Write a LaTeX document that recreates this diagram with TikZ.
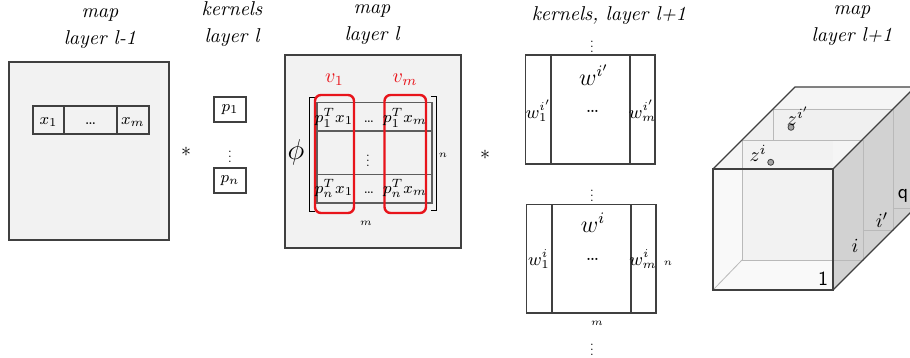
\documentclass[tikz,border=0pt]{standalone}
\usepackage{amsmath, amssymb}
\usepackage{graphicx}
\usepackage{tikz}
\usetikzlibrary{positioning, calc}

\definecolor{linegray}{HTML}{404040}
\definecolor{mapgray}{HTML}{F2F2F2}
\definecolor{vecred}{HTML}{E8141B}

\newcommand{\smallvdots}{\scalebox{0.65}{$\vdots$}}

\tikzset{
  title/.style={align=center, font=\itshape},
  cell/.style={draw=linegray, semithick, fill=mapgray, minimum height=14pt,
    inner sep=0pt, outer sep=0pt, font=\footnotesize, text height=1.5ex, text depth=.4ex},
  kernel/.style={draw=linegray, semithick, fill=white, minimum width=16pt,
    minimum height=12.5pt, inner sep=0pt, font=\footnotesize},
  entry/.style={font=\footnotesize, inner sep=0pt, text height=1.7ex, text depth=.5ex},
  wlabel/.style={font=\small, inner sep=0pt},
  dimlabel/.style={font=\tiny, inner sep=0pt},
  slice/.style={draw=gray!55, line width=.4pt},
  edge/.style={draw=linegray, semithick},
  zdot/.style={circle, draw=linegray, fill=gray!70, minimum size=3pt, inner sep=0pt, thin}
}

\begin{document}
\begin{tikzpicture}[x=0.5pt, y=-0.5pt, semithick]
  \useasboundingbox (0,0) rectangle (910,358);
  \clip (0,0) rectangle (910,358);

  % Titles
  \node[title, inner sep=1pt] (tmap0) at (100,29) {map\\[1.5pt]layer l-1};
  \node[title, inner sep=1pt] (tker1) at (232,24) {kernels\\[1.5pt]layer l};
  \node[title, inner sep=1pt] (tmap1) at (372,25) {map\\[1.5pt]layer l};
  \node[title, inner sep=1pt] (tker2) at (609,16) {kernels, layer l+1};
  \node[title, inner sep=1pt] (tmap2) at (852,26) {map\\[1.5pt]layer l+1};

  % map layer l-1
  \draw[fill=mapgray, draw=linegray] (9,62) rectangle (169,240);
  \node[cell, minimum width=15.5pt] (x1) at (48.5,120) {$x_1$};
  \node[cell, minimum width=26.5pt] (xdots) at (90.5,120) {\dots};
  \node[cell, minimum width=16pt] (xm) at (133,120) {$x_m$};

  % kernels layer l
  \node (ast1) at (186,152) {$\ast$};
  \node[kernel] (p1) at (230,109.5) {$p_1$};
  \node (pdots) at (230,153) {\smallvdots};
  \node[kernel] (pn) at (230,180.5) {$p_n$};

  % map layer l
  \draw[fill=mapgray, draw=linegray] (285,55) rectangle (461,248);
  \draw[draw=linegray!85, line width=.8pt] (317,102.7) rectangle (431.7,202.7)
    (317,131) -- (431.7,131) (317,174.3) -- (431.7,174.3);
  \draw[black, line width=.7pt] (315,97.5) -| (309.5,211.5) -- (315,211.5);
  \draw[black, line width=.7pt] (431,96.5) -| (436.5,210.5) -- (431,210.5);
  \draw[vecred, line width=1.2pt, rounded corners=3pt] (315,95) rectangle (354,213);
  \draw[vecred, line width=1.2pt, rounded corners=3pt] (384.5,95) rectangle (426,213);
  \node[text=vecred] (v1) at (334.5,80) {$v_1$};
  \node[text=vecred] (vm) at (405,80) {$v_m$};
  \node[entry] (e11) at (334,117) {$p_1^T x_1$};
  \node[entry, font=\scriptsize] (e12) at (369,117) {\dots};
  \node[entry] (e1m) at (405,117) {$p_1^T x_m$};
  \node (evd) at (368,157) {\smallvdots};
  \node[entry] (en1) at (334,188) {$p_n^T x_1$};
  \node[entry, font=\scriptsize] (en2) at (369,188) {\dots};
  \node[entry] (enm) at (405,188) {$p_n^T x_m$};
  \node[font=\Large] (phi) at (296,152) {$\phi$};
  \node[dimlabel] (n1) at (443,155) {$n$};
  \node[dimlabel] (m1) at (366,223) {$m$};
  \node (ast2) at (485,155) {$\ast$};

  % kernels layer l+1
  \node (wd1) at (592,43) {\smallvdots};
  \draw[edge] (525.5,55) rectangle (655,164) (551,55) -- (551,164) (630,55) -- (630,164);
  \node[font=\large] (wip) at (594,75) {$w^{i'}$};
  \node (wipd) at (592.5,111) {\dots};
  \node[wlabel] (wip1) at (538.5,111) {$w_1^{i'}$};
  \node[wlabel] (wipm) at (642.5,111) {$w_m^{i'}$};
  \node (wd2) at (592,192) {\smallvdots};
  \draw[edge] (526.5,204.5) rectangle (656,313) (552,204.5) -- (552,313) (631,204.5) -- (631,313);
  \node[font=\large] (wi) at (593,223) {$w^{i}$};
  \node (wid) at (592.5,259) {\dots};
  \node[wlabel] (wi1) at (539,259) {$w_1^{i}$};
  \node[wlabel] (wim) at (643,259) {$w_m^{i}$};
  \node[dimlabel] (n2) at (668,263) {$n$};
  \node[dimlabel] (m2) at (597,323) {$m$};
  \node (wd3) at (592,346) {\smallvdots};

  % map layer l+1
  \fill[gray!8] (713,169) -- (795,87) -- (915,87) -- (833,169) -- cycle;
  \fill[gray!35] (833,169) -- (915,87) -- (915,208) -- (833,290) -- cycle;
  \fill[gray!5] (713,169) rectangle (833,290);
  \fill[gray!10] (742,140) rectangle (833,260);
  \fill[gray!12] (742,140) -- (773,109) -- (893,109) -- (863,140) -- cycle;
  \draw[slice] (713,290) -- (742,260);
  \draw[slice] (742,140) rectangle (863,260);
  \draw[slice] (773,140) -- (773,109) -- (893,109) -- (893,230) -- (863,230);
  \draw[slice] (893,208) -- (915,208);
  \draw[edge] (713,169) rectangle (833,290);
  \draw[edge] (713,169) -- (795,87) -- (915,87);
  \draw[edge] (833,169) -- (915,87);
  \draw[edge] (833,290) -- (915,208);
  \node[zdot] (zi) at (770.7,162.3) {};
  \node (zil) at (758,153) {$z^i$};
  \node[zdot] (zip) at (791,127.3) {};
  \node (zipl) at (798,116) {$z^{i'}$};
  \node[font=\sffamily] (s1) at (823,279) {1};
  \node (si) at (855,246) {$i$};
  \node (sip) at (882,220) {$i'$};
  \node[font=\sffamily] (sq) at (903,196) {q};
\end{tikzpicture}
\end{document}
